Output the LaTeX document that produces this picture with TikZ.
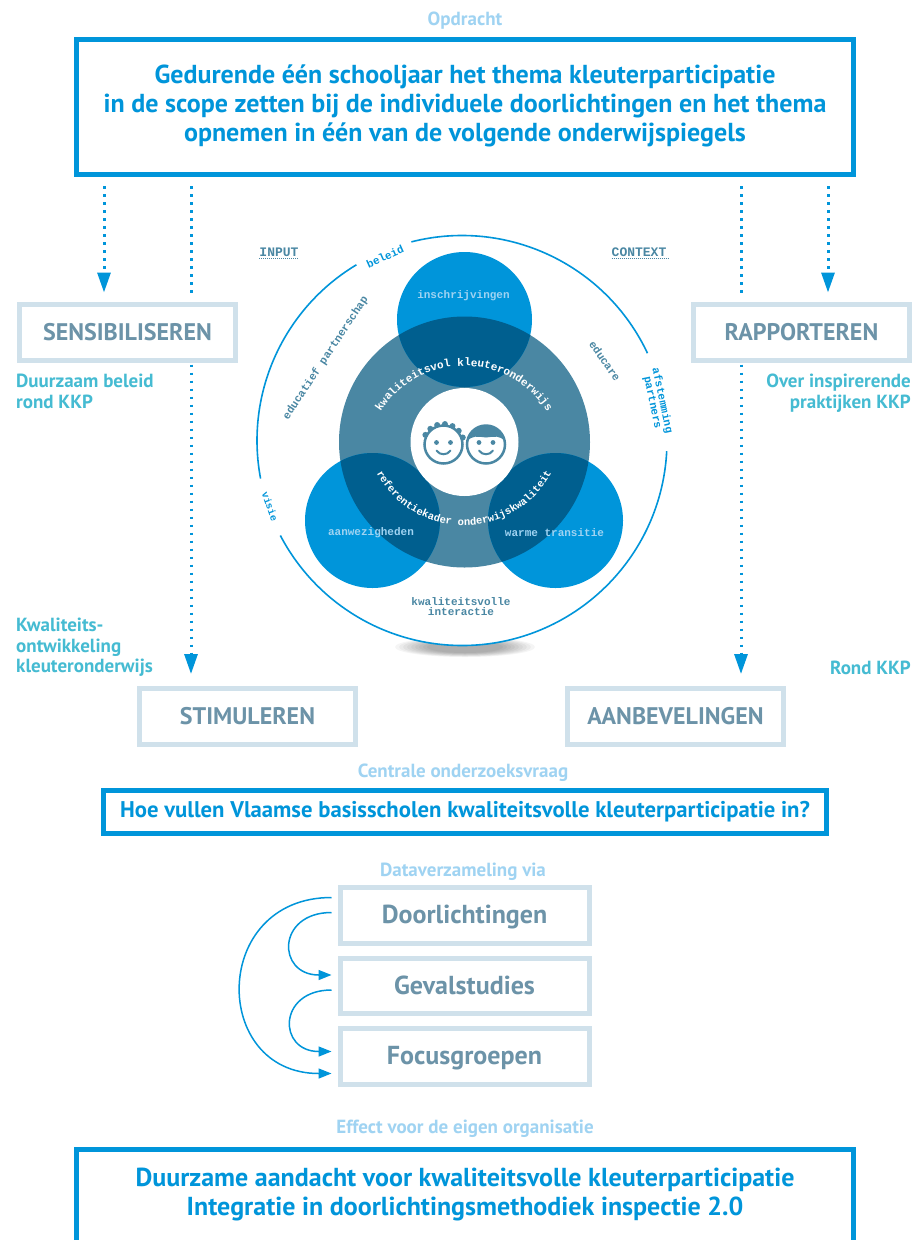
\documentclass[tikz,border=0pt]{standalone}
\usepackage{fontspec}
\setmainfont{PT Sans}
\newfontfamily\slabfont{Liberation Mono}
\usetikzlibrary{arrows.meta,calc,decorations.text}
\definecolor{hoofdblauw}{HTML}{0095DA}
\definecolor{lichtblauw}{HTML}{9FD3F2}
\definecolor{grijsblauw}{HTML}{4A87A3}
\definecolor{donkerblauw}{HTML}{005F8F}
\definecolor{kaderblauw}{HTML}{D0E1EB}
\definecolor{kadertekst}{HTML}{6C93A8}
\definecolor{zijtekst}{HTML}{45BBD2}
\tikzset{
	x=1pt, y=1pt,
	Kop/.style = {font=\bfseries\fontsize{19}{22}\selectfont, text=lichtblauw},
	Hoofdkader/.style = {draw=hoofdblauw, line width=5pt, fill=white, inner sep=0pt},
	Kader/.style = {draw=kaderblauw, line width=5pt, fill=white, inner sep=0pt,
		minimum width=216pt, minimum height=56pt, text=kadertekst,
		text height=20pt, text depth=4pt,
		font=\bfseries\fontsize{24}{26}\selectfont},
	Datakader/.style = {Kader, minimum width=249pt, font=\bfseries\fontsize{26}{28}\selectfont},
	Zijtekst/.style = {inner sep=0pt, font=\bfseries\fontsize{19}{20.5}\selectfont, text=zijtekst},
	Hoofdtekst/.style = {align=center, text=hoofdblauw,
		font=\bfseries\fontsize{26}{29}\selectfont},
	Stippel/.style = {draw=hoofdblauw, line width=3pt, dash pattern=on 2.5pt off 5.5pt},
	Punt/.style = {-{Triangle[length=20pt,width=13pt]}},
	Boog/.style = {draw=hoofdblauw, line width=1.5pt, -{Triangle[length=13pt,width=10pt]},
		shorten <=6pt, shorten >=6pt},
	Ring/.style = {draw=hoofdblauw, line width=1.6pt},
	Slab/.style = {font=\slabfont\bfseries\fontsize{11}{11}\selectfont, text=grijsblauw,
		align=center, inner sep=0pt},
	Slabblauw/.style = {Slab, text=hoofdblauw},
	Gezicht/.style = {draw=grijsblauw, line width=2.5pt},
}
\begin{document}
\begin{tikzpicture}
\useasboundingbox (0,0) rectangle (915,-1240);
\fill[white] (0,0) rectangle (915,-1240);

% kaders
\node[Kop] (opdrachtkop) at (465,-21) {Opdracht};
\node[Hoofdkader, minimum width=777pt, minimum height=135pt] (opdracht) at (465,-107) {};
\node[Hoofdtekst] (opdrachttekst) at (465,-106) {Gedurende één schooljaar het thema kleuterparticipatie\\
	in de scope zetten bij de individuele doorlichtingen en het thema\\
	opnemen in één van de volgende onderwijspiegels};
\node[Kader] (sens) at (127.5,-332) {SENSIBILISEREN};
\node[Kader] (rapp) at (801.5,-332) {RAPPORTEREN};
\node[Kader] (stim) at (247.5,-716.5) {STIMULEREN};
\node[Kader] (aanb) at (675.5,-716.5) {AANBEVELINGEN};

\node[Zijtekst, anchor=north west, align=left] (sensnoot) at (16,-374) {Duurzaam beleid\\rond KKP};
\node[Zijtekst, anchor=north east, align=right] (rappnoot) at (911,-374) {Over inspirerende\\praktijken KKP};
\node[Zijtekst, anchor=north west, align=left] (stimnoot) at (16,-618) {Kwaliteits-\\ontwikkeling\\kleuteronderwijs};
\node[Zijtekst, anchor=east] (aanbnoot) at (911,-668) {Rond KKP};

% stippellijnen
\coordinate (k1) at (104,0);
\coordinate (k2) at (191,0);
\coordinate (k3) at (741,0);
\coordinate (k4) at (828,0);
\draw[Stippel, Punt, shorten <=9pt, shorten >=9pt] (opdracht.south -| k1) -- (sens.north -| k1);
\draw[Stippel, shorten <=9pt, shorten >=5pt] (opdracht.south -| k2) -- (sens.north -| k2);
\draw[Stippel, Punt, shorten <=2pt, shorten >=12pt] (sens.south -| k2) -- (stim.north -| k2);
\draw[Stippel, shorten <=9pt, shorten >=5pt] (opdracht.south -| k3) -- (rapp.north -| k3);
\draw[Stippel, Punt, shorten <=2pt, shorten >=12pt] (rapp.south -| k3) -- (aanb.north -| k3);
\draw[Stippel, Punt, shorten <=9pt, shorten >=9pt] (opdracht.south -| k4) -- (rapp.north -| k4);

% schaduw en ring
\foreach \rx/\ry in {70/10,66/9.5,62/9,58/8.5,54/8,50/7.5,46/7,42/6.5,38/6}
	\fill[black, opacity=.04] (465,-647) ellipse[x radius=\rx pt, y radius=\ry pt];
\coordinate (midden) at (462,-440.5);
\fill[white] (midden) circle[radius=205pt];
\draw[Ring] (midden) ++(104.3:205pt) arc[start angle=104.3, end angle=25.2, radius=205pt];
\draw[Ring] (midden) ++(-3:205pt) arc[start angle=-3, end angle=-152.4, radius=205pt];
\draw[Ring] (midden) ++(190.7:205pt) arc[start angle=190.7, end angle=121, radius=205pt];

% cirkels
\coordinate (hart) at (464.5,-442);
\coordinate (boven) at (464.5,-319.5);
\coordinate (links) at (372.5,-520.5);
\coordinate (rechts) at (555.5,-520.5);
\fill[grijsblauw] (hart) circle[radius=125.5pt];
\foreach \c in {boven,links,rechts} {
	\fill[hoofdblauw] (\c) circle[radius=67.5pt];
	\begin{scope}
		\clip (\c) circle[radius=67.5pt];
		\fill[donkerblauw] (hart) circle[radius=125.5pt];
	\end{scope}
}
\fill[white] (hart) circle[radius=54pt];

% gezichten
\coordinate (jongen) at (443.5,-444.5);
\coordinate (meisje) at (486,-444.5);
\foreach \a in {20,42,...,160}
	\fill[grijsblauw] (jongen) ++(\a:20.5pt) circle[radius=3pt];
\fill[white] (jongen) circle[radius=18pt];
\fill[white] (meisje) circle[radius=20pt];
\fill[grijsblauw] (meisje) ++(170:19pt) arc[start angle=170, end angle=10, radius=19pt]
	.. controls +(-5pt,6pt) and +(9pt,1pt) .. ($(meisje)+(0pt,7pt)$)
	.. controls +(-9pt,1pt) and +(5pt,6pt) .. ($(meisje)+(170:19pt)$) -- cycle;
\draw[Gezicht] (jongen) circle[radius=19pt];
\draw[Gezicht] (meisje) circle[radius=19pt];
\foreach \c in {jongen,meisje} {
	\fill[grijsblauw] (\c) ++(-7pt,2pt) circle[radius=2.4pt];
	\fill[grijsblauw] (\c) ++(7pt,2pt) circle[radius=2.4pt];
	\draw[Gezicht, line width=2pt, line cap=round] (\c) ++(-7pt,-6pt) .. controls +(3pt,-5pt) and +(-3pt,-5pt) .. +(14pt,0pt);
}

% teksten om de cirkels
\path[decorate, decoration={text along path, text align=center,
	text={|\slabfont\bfseries\fontsize{11}{11}\selectfont\color{white}|kwaliteitsvol kleuteronderwijs}}]
	(464,-465) ++(146:99pt) arc[start angle=146, end angle=34, radius=99pt];
\path[decorate, decoration={text along path, text align=center,
	text={|\slabfont\bfseries\fontsize{10.5}{11}\selectfont\color{white}|referentiekader onderwijskwaliteit}}]
	(464,-426.5) ++(205:99pt) arc[start angle=205, end angle=335, radius=99pt];

\node[Slab, text=lichtblauw] (inschr) at (463.5,-295.5) {inschrijvingen};
\node[Slab, text=lichtblauw] (aanw) at (371,-533) {aanwezigheden};
\node[Slab, text=lichtblauw] (warm) at (554.5,-533) {warme transitie};
\node[Slab] (inter) at (461,-607) {kwaliteitsvolle\\[-1pt]interactie};
\node[Slab, rotate=56.5] (partner) at (325.7,-358) {educatief partnerschap};
\node[Slab, rotate=-55] (educare) at (605,-361) {educare};
\node[Slabblauw, rotate=24] (beleid) at (385,-256.7) {beleid};
\node[Slabblauw, rotate=-78] (afst) at (657.3,-401.7) {afstemming\\[-1pt]partners};
\node[Slabblauw, rotate=-70, font=\slabfont\bfseries\fontsize{10}{10}\selectfont] (visie) at (270,-506.5) {visie};
\node[Slab, font=\slabfont\bfseries\fontsize{13}{13}\selectfont] (input) at (279,-252) {INPUT};
\node[Slab, font=\slabfont\bfseries\fontsize{13}{13}\selectfont] (context) at (639,-252) {CONTEXT};
\draw[grijsblauw, line width=1pt, dash pattern=on 1pt off 1pt] (input.south west) ++(0,-2pt) -- ++(40pt,0);
\draw[grijsblauw, line width=1pt, dash pattern=on 1pt off 1pt] (context.south west) ++(0,-2pt) -- ++(57pt,0);

% onderzoeksvraag
\node[Kop] (vraagkop) at (463,-773) {Centrale onderzoeksvraag};
\node[Hoofdkader, minimum width=723pt, minimum height=43pt, text=hoofdblauw,
	font=\bfseries\fontsize{22.7}{24}\selectfont] (vraag) at (465,-812) {Hoe vullen Vlaamse basisscholen kwaliteitsvolle kleuterparticipatie in?};

% dataverzameling
\node[Kop] (datakop) at (463,-872) {Dataverzameling via};
\node[Datakader] (door) at (464.5,-915.5) {Doorlichtingen};
\node[Datakader, minimum height=55pt] (geval) at (464.5,-986) {Gevalstudies};
\node[Datakader] (focus) at (464.5,-1056.5) {Focusgroepen};
\draw[Boog] ([yshift=3pt]door.west) to[out=180, in=180, looseness=2.5] ([yshift=11pt]geval.west);
\draw[Boog] ([yshift=-4pt]geval.west) to[out=180, in=180, looseness=2.5] ([yshift=5pt]focus.west);
\draw[Boog] ([yshift=18pt]door.west) to[out=180, in=180, looseness=1.85] ([yshift=-17pt]focus.west);

% effect
\node[Kop] (effectkop) at (465,-1129) {Effect voor de eigen organisatie};
\node[Hoofdkader, anchor=north, minimum width=777pt, minimum height=140pt] (effectkader) at (465,-1146.5) {};
\node[Hoofdtekst] (effect) at (465,-1194) {Duurzame aandacht voor kwaliteitsvolle kleuterparticipatie\\
	Integratie in doorlichtingsmethodiek inspectie 2.0};
\end{tikzpicture}
\end{document}
